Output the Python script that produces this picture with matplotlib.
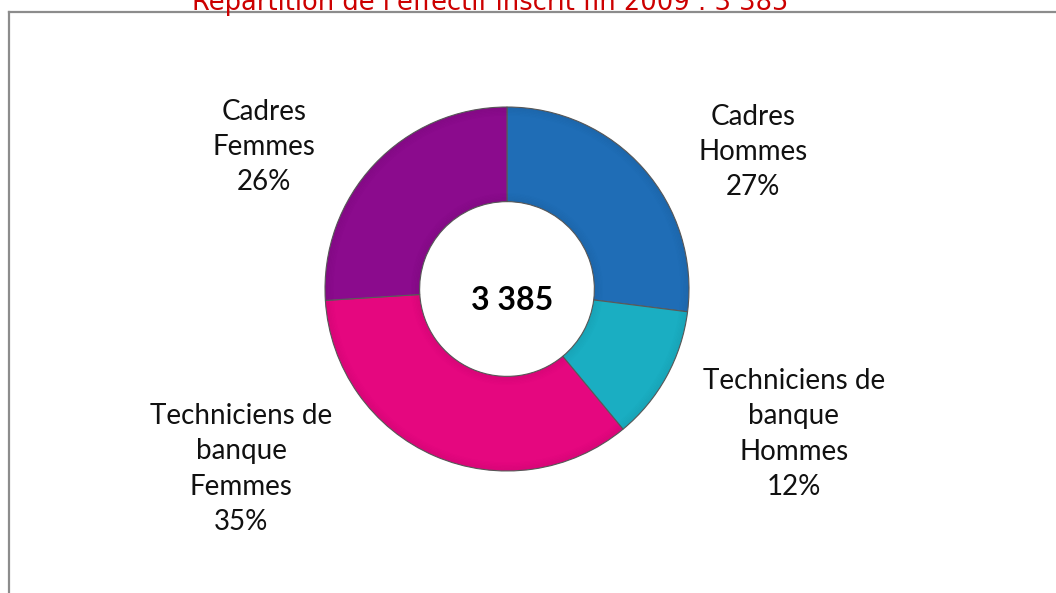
import matplotlib
matplotlib.use("Agg")
import matplotlib.pyplot as plt
from matplotlib.lines import Line2D
from matplotlib.patches import Wedge

W, H = 1056, 593
DPI = 100

# Data
categories = ["Cadres\nHommes", "Techniciens de\nbanque\nHommes",
              "Techniciens de\nbanque\nFemmes", "Cadres\nFemmes"]
percentages = [27, 12, 35, 26]
total_label = "3 385"
title = "Répartition de l'effectif inscrit fin 2009 : 3 385"

colors = ["#1F6DB6", "#1AAEC2", "#E5077F", "#8B0B8D"]

fig = plt.figure(figsize=(W / DPI, H / DPI), dpi=DPI)
fig.patch.set_facecolor("white")

def fx(px):
    return px / W

def fy(py):
    return 1 - py / H

# Donut
cx, cy, r = 507, 289, 182
ax = fig.add_axes([fx(cx - r), fy(cy + r), 2 * r / W, 2 * r / H])
wedges, _ = ax.pie(percentages, colors=colors, startangle=90, counterclock=False,
                   radius=1.0, wedgeprops=dict(width=0.52, edgecolor="#5a5a5a", linewidth=0.8))

# Subtle bevel shading near the inner and outer rims
inner = 1.0 - 0.52
for i in range(6):
    t = i / 6.0
    a = 0.05 * (1 - t)
    ax.add_patch(Wedge((0, 0), 1.0 - 0.008 * i, 0, 360, width=0.008,
                       facecolor="black", alpha=a, edgecolor="none"))
    ax.add_patch(Wedge((0, 0), inner + 0.008 * (i + 1), 0, 360, width=0.008,
                       facecolor="black", alpha=a, edgecolor="none"))

ax.set_xlim(-1, 1)
ax.set_ylim(-1, 1)
ax.set_aspect("equal")
ax.axis("off")

# Labels (text from data)
label_pos = [(753, 152), (794, 434), (241, 469), (264, 147)]
for cat, pct, (lx, ly) in zip(categories, percentages, label_pos):
    fig.text(fx(lx), fy(ly), f"{cat}\n{pct}%", ha="center", va="center",
             fontsize=20, family=["Lato", "DejaVu Sans"], color="#111111",
             linespacing=1.45)

# Centre total
fig.text(fx(512), fy(300), total_label, ha="center", va="center", fontsize=23,
         fontweight="bold", family=["Liberation Sans Narrow", "Lato"], color="black")

# Title (clipped at top)
fig.text(fx(490), fy(10), title, ha="center", va="baseline", fontsize=18.5,
         family=["DejaVu Sans"], color="#CC0000")

# Frame
fig.add_artist(Line2D([fx(9), fx(W)], [fy(12), fy(12)], color="#8C8C8C", lw=1.6,
                      transform=fig.transFigure))
fig.add_artist(Line2D([fx(9), fx(9)], [fy(12), fy(H)], color="#8C8C8C", lw=1.6,
                      transform=fig.transFigure))

fig.savefig("out.png", dpi=DPI, facecolor="white")
